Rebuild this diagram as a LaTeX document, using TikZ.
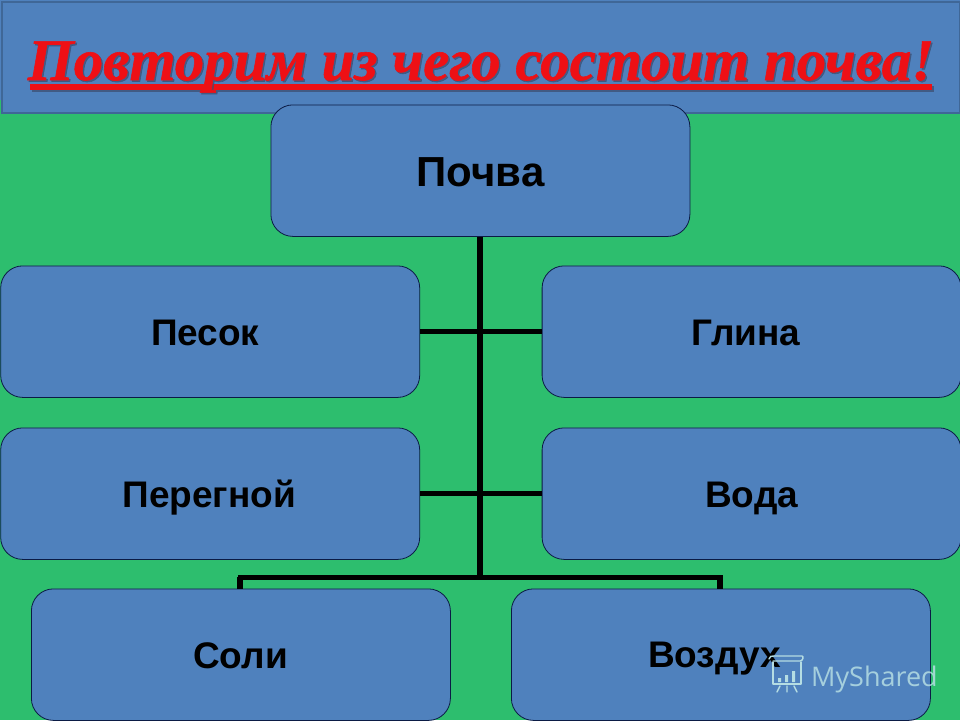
\documentclass[tikz,border=0pt]{standalone}
\usepackage{fontspec}
\setmainfont{Liberation Sans}
\newfontfamily\titlefont[BoldItalicFeatures={FakeBold=1}]{Liberation Serif}
\newfontfamily\markfont{Open Sans}
\definecolor{bgreen}{HTML}{2DBE6E}
\definecolor{bblue}{HTML}{4F81BD}
\definecolor{bedge}{HTML}{0B1B45}
\definecolor{tedge}{HTML}{3F6797}
\definecolor{tred}{HTML}{EE1015}
\definecolor{tshadow}{HTML}{3D4F72}
\definecolor{wm}{HTML}{B5DDE3}
\tikzset{
  boxnode/.style={draw=bedge,line width=0.8pt,fill=bblue,rounded corners=22pt,minimum width=419pt,minimum height=131.5pt,inner sep=0pt,anchor=north west},
  lab/.style={font=\bfseries\fontsize{37}{40}\selectfont,text=black,inner sep=0pt},
  link/.style={line width=5pt,draw=black},
  linkv/.style={line width=6pt,draw=black},
  titlet/.style={font=\titlefont\bfseries\itshape\fontsize{59}{62}\selectfont,inner sep=0pt,anchor=base},
  wmline/.style={draw=wm,line width=1.4pt,line cap=round,line join=round}
}
\begin{document}
\begin{tikzpicture}[x=1pt,y=-1pt]
\useasboundingbox (0,0) rectangle (960,720);
\clip (0,0) rectangle (960,720);
\fill[bblue] (0,0) rectangle (960,100);
\fill[bgreen] (0,100) rectangle (960,720);
% title band
\node[draw=tedge,line width=2pt,fill=bblue,minimum width=958pt,minimum height=111pt,inner sep=0pt,anchor=north west] (band) at (1,1) {};
\fill[tshadow,opacity=.75] (31.5,85.5) rectangle (933.5,92);
\fill[tred] (30,83.5) rectangle (932,90);
\node[titlet,text=tshadow,opacity=.7] (titleshadow) at (482.5,81.5) {Повторим из чего состоит почва!};
\node[titlet,text=tred] (titletext) at (481,80) {Повторим из чего состоит почва!};
% boxes
\node[boxnode,label={[lab,font=\bfseries\fontsize{42}{45}\selectfont,yshift=-2pt]center:Почва}] (soil) at (270.5,104.5) {};
\node[boxnode,label={[lab,xshift=-5pt,yshift=-1pt]center:Песок}] (sand) at (0.3,265.5) {};
\node[boxnode,label={[lab,xshift=-5.5pt,yshift=-1pt]center:Глина}] (clay) at (541.7,265.5) {};
\node[boxnode,label={[lab,xshift=-1pt,yshift=-4pt]center:Перегной}] (humus) at (0.3,427.5) {};
\node[boxnode,label={[lab,xshift=0pt,yshift=-4.5pt]center:Вода}] (water) at (541.7,427.5) {};
\node[boxnode,label={[lab,xshift=-0.5pt,yshift=-1pt]center:Соли}] (salts) at (31,588.5) {};
\node[boxnode,label={[lab,xshift=-6.5pt,yshift=-4pt]center:Воздух}] (air) at (511,588.5) {};
\coordinate (junction) at (soil.south |- 0,577);
\coordinate (leftdrop) at (240,577);
\coordinate (rightdrop) at (720,577);
% connectors
\draw[linkv] (soil.south) -- (junction);
\draw[link] (sand.east) -- (clay.west);
\draw[link] (humus.east) -- (water.west);
\draw[linkv,line width=5pt,line cap=rect] (leftdrop) -- (rightdrop);
\draw[linkv] (leftdrop) -- (salts.north -| leftdrop);
\draw[linkv] (rightdrop) -- (air.north -| rightdrop);
% watermark
\draw[wmline] (773,662) -- (773,684) -- (801,684) -- (801,662);
\draw[wmline] (769,659) .. controls (769,656) and (772,656) .. (774,656) -- (802,656) .. controls (804,656) and (803,661) .. (800,661) -- (773,661);
\fill[wm] (778,678) rectangle (781,682) (785,675) rectangle (788,682) (792,671) rectangle (795,682);
\draw[wmline] (780,686) -- (777,692) (787,686) -- (787,692) (794,686) -- (797,692);
\node[font=\markfont\fontsize{27}{30}\selectfont,text=wm,opacity=.85,inner sep=0pt,anchor=base west] (mark) at (811,686) {MyShared};
\end{tikzpicture}
\end{document}
